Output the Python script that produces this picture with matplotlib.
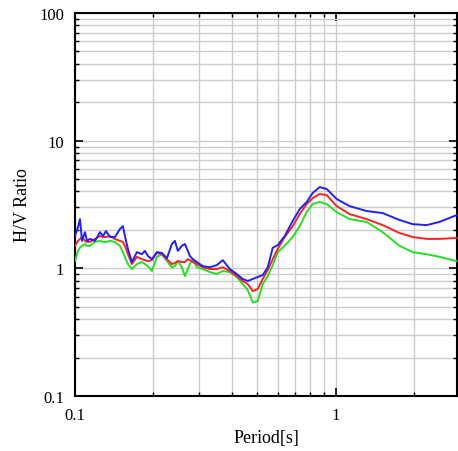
import matplotlib
matplotlib.use("Agg")
import matplotlib.pyplot as plt
from matplotlib.ticker import LogLocator, FixedLocator, FixedFormatter, NullFormatter

period = [0.1, 0.1027, 0.1045, 0.1064, 0.1092, 0.1112, 0.1141, 0.1193, 0.1247, 0.1280,
          0.1315, 0.1362, 0.1423, 0.1487, 0.1527, 0.1554, 0.1596, 0.1653, 0.1728, 0.1806,
          0.1854, 0.1904, 0.1972, 0.2062, 0.2154, 0.2252, 0.2353, 0.2416, 0.2481, 0.2570,
          0.2640, 0.2710, 0.2758, 0.2832, 0.2934, 0.3093, 0.3290, 0.3500, 0.3690, 0.3926,
          0.4175, 0.4403, 0.4601, 0.4808, 0.5025, 0.5252, 0.5489, 0.5736, 0.5995, 0.6375,
          0.6842, 0.7278, 0.7743, 0.8165, 0.8684, 0.9238, 1.009, 1.131, 1.315, 1.514,
          1.759, 1.972, 2.232, 2.503, 2.908]

hv_blue = [1.79, 2.11, 2.43, 1.64, 1.92, 1.64, 1.70, 1.64, 1.92, 1.79,
           1.96, 1.76, 1.76, 2.03, 2.14, 1.79, 1.42, 1.12, 1.34, 1.29,
           1.37, 1.25, 1.18, 1.34, 1.32, 1.20, 1.55, 1.64, 1.37, 1.50,
           1.55, 1.37, 1.25, 1.18, 1.12, 1.04, 1.02, 1.06, 1.16, 0.987,
           0.902, 0.825, 0.796, 0.825, 0.855, 0.886, 1.02, 1.45, 1.52, 1.79,
           2.35, 2.91, 3.31, 3.89, 4.33, 4.18, 3.49, 3.07, 2.81, 2.71,
           2.39, 2.22, 2.18, 2.31, 2.61]

hv_red = [1.50, 1.64, 1.70, 1.76, 1.64, 1.61, 1.61, 1.70, 1.79, 1.76,
          1.76, 1.79, 1.70, 1.64, 1.61, 1.50, 1.29, 1.08, 1.23, 1.18,
          1.16, 1.14, 1.16, 1.32, 1.29, 1.18, 1.08, 1.10, 1.14, 1.12,
          1.12, 1.18, 1.16, 1.12, 1.08, 1.02, 0.987, 0.987, 1.02, 0.953,
          0.870, 0.796, 0.753, 0.664, 0.689, 0.825, 0.97, 1.18, 1.42, 1.76,
          2.14, 2.66, 3.19, 3.55, 3.82, 3.75, 3.07, 2.66, 2.43, 2.18,
          1.89, 1.76, 1.70, 1.70, 1.73]

hv_green = [1.14, 1.37, 1.45, 1.50, 1.55, 1.50, 1.50, 1.61, 1.64, 1.61,
            1.61, 1.64, 1.61, 1.50, 1.34, 1.23, 1.08, 0.987, 1.08, 1.12,
            1.08, 1.04, 0.953, 1.23, 1.29, 1.14, 1.02, 1.04, 1.14, 1.02,
            0.870, 0.987, 1.08, 1.18, 1.02, 0.987, 0.936, 0.902, 0.953, 0.936,
            0.855, 0.753, 0.676, 0.54, 0.555, 0.753, 0.870, 1.06, 1.34, 1.50,
            1.76, 2.14, 2.76, 3.19, 3.31, 3.19, 2.76, 2.43, 2.31, 1.92,
            1.50, 1.34, 1.29, 1.23, 1.14]

x_ticks = [0.1, 1]
x_tick_labels = ["0.1", "1"]
y_ticks = [0.1, 1, 10, 100]
y_tick_labels = ["0.1", "1", "10", "100"]

plt.rcParams['font.family'] = ['Liberation Serif', 'DejaVu Serif']

fig = plt.figure(figsize=(4.58, 4.52), dpi=100)
ax = fig.add_axes([75/458, 1-397/452, (457-75)/458, (397-14)/452])

ax.plot(period, hv_green, color='#22e022', lw=1.4, zorder=3)
ax.plot(period, hv_red, color='#ff2020', lw=1.4, zorder=4)
ax.plot(period, hv_blue, color='#2020ff', lw=1.4, zorder=5)

ax.set_xscale('log')
ax.set_yscale('log')
ax.set_xlim(0.1, 2.92)
ax.set_ylim(0.1, 100)

ax.xaxis.set_major_locator(FixedLocator(x_ticks))
ax.xaxis.set_major_formatter(FixedFormatter(x_tick_labels))
ax.xaxis.set_minor_locator(LogLocator(base=10, subs=range(2, 10), numticks=20))
ax.xaxis.set_minor_formatter(NullFormatter())
ax.yaxis.set_major_locator(FixedLocator(y_ticks))
ax.yaxis.set_major_formatter(FixedFormatter(y_tick_labels))
ax.yaxis.set_minor_locator(LogLocator(base=10, subs=range(2, 10), numticks=20))
ax.yaxis.set_minor_formatter(NullFormatter())

ax.grid(True, which='both', color='#cccccc', lw=1.0, zorder=0)
ax.set_axisbelow(True)
ax.tick_params(which='both', direction='in', top=True, right=True, labelsize=12, colors='black')
ax.tick_params(which='major', length=6, width=1.2, pad=8)
ax.tick_params(which='minor', length=3, width=1.0)
for s in ax.spines.values():
    s.set_linewidth(1.5)
    s.set_color('black')

ax.set_xlabel('Period[s]', fontsize=13, labelpad=4)
ax.set_ylabel('H/V Ratio', fontsize=13, labelpad=6)

fig.savefig('out.png', dpi=100)
